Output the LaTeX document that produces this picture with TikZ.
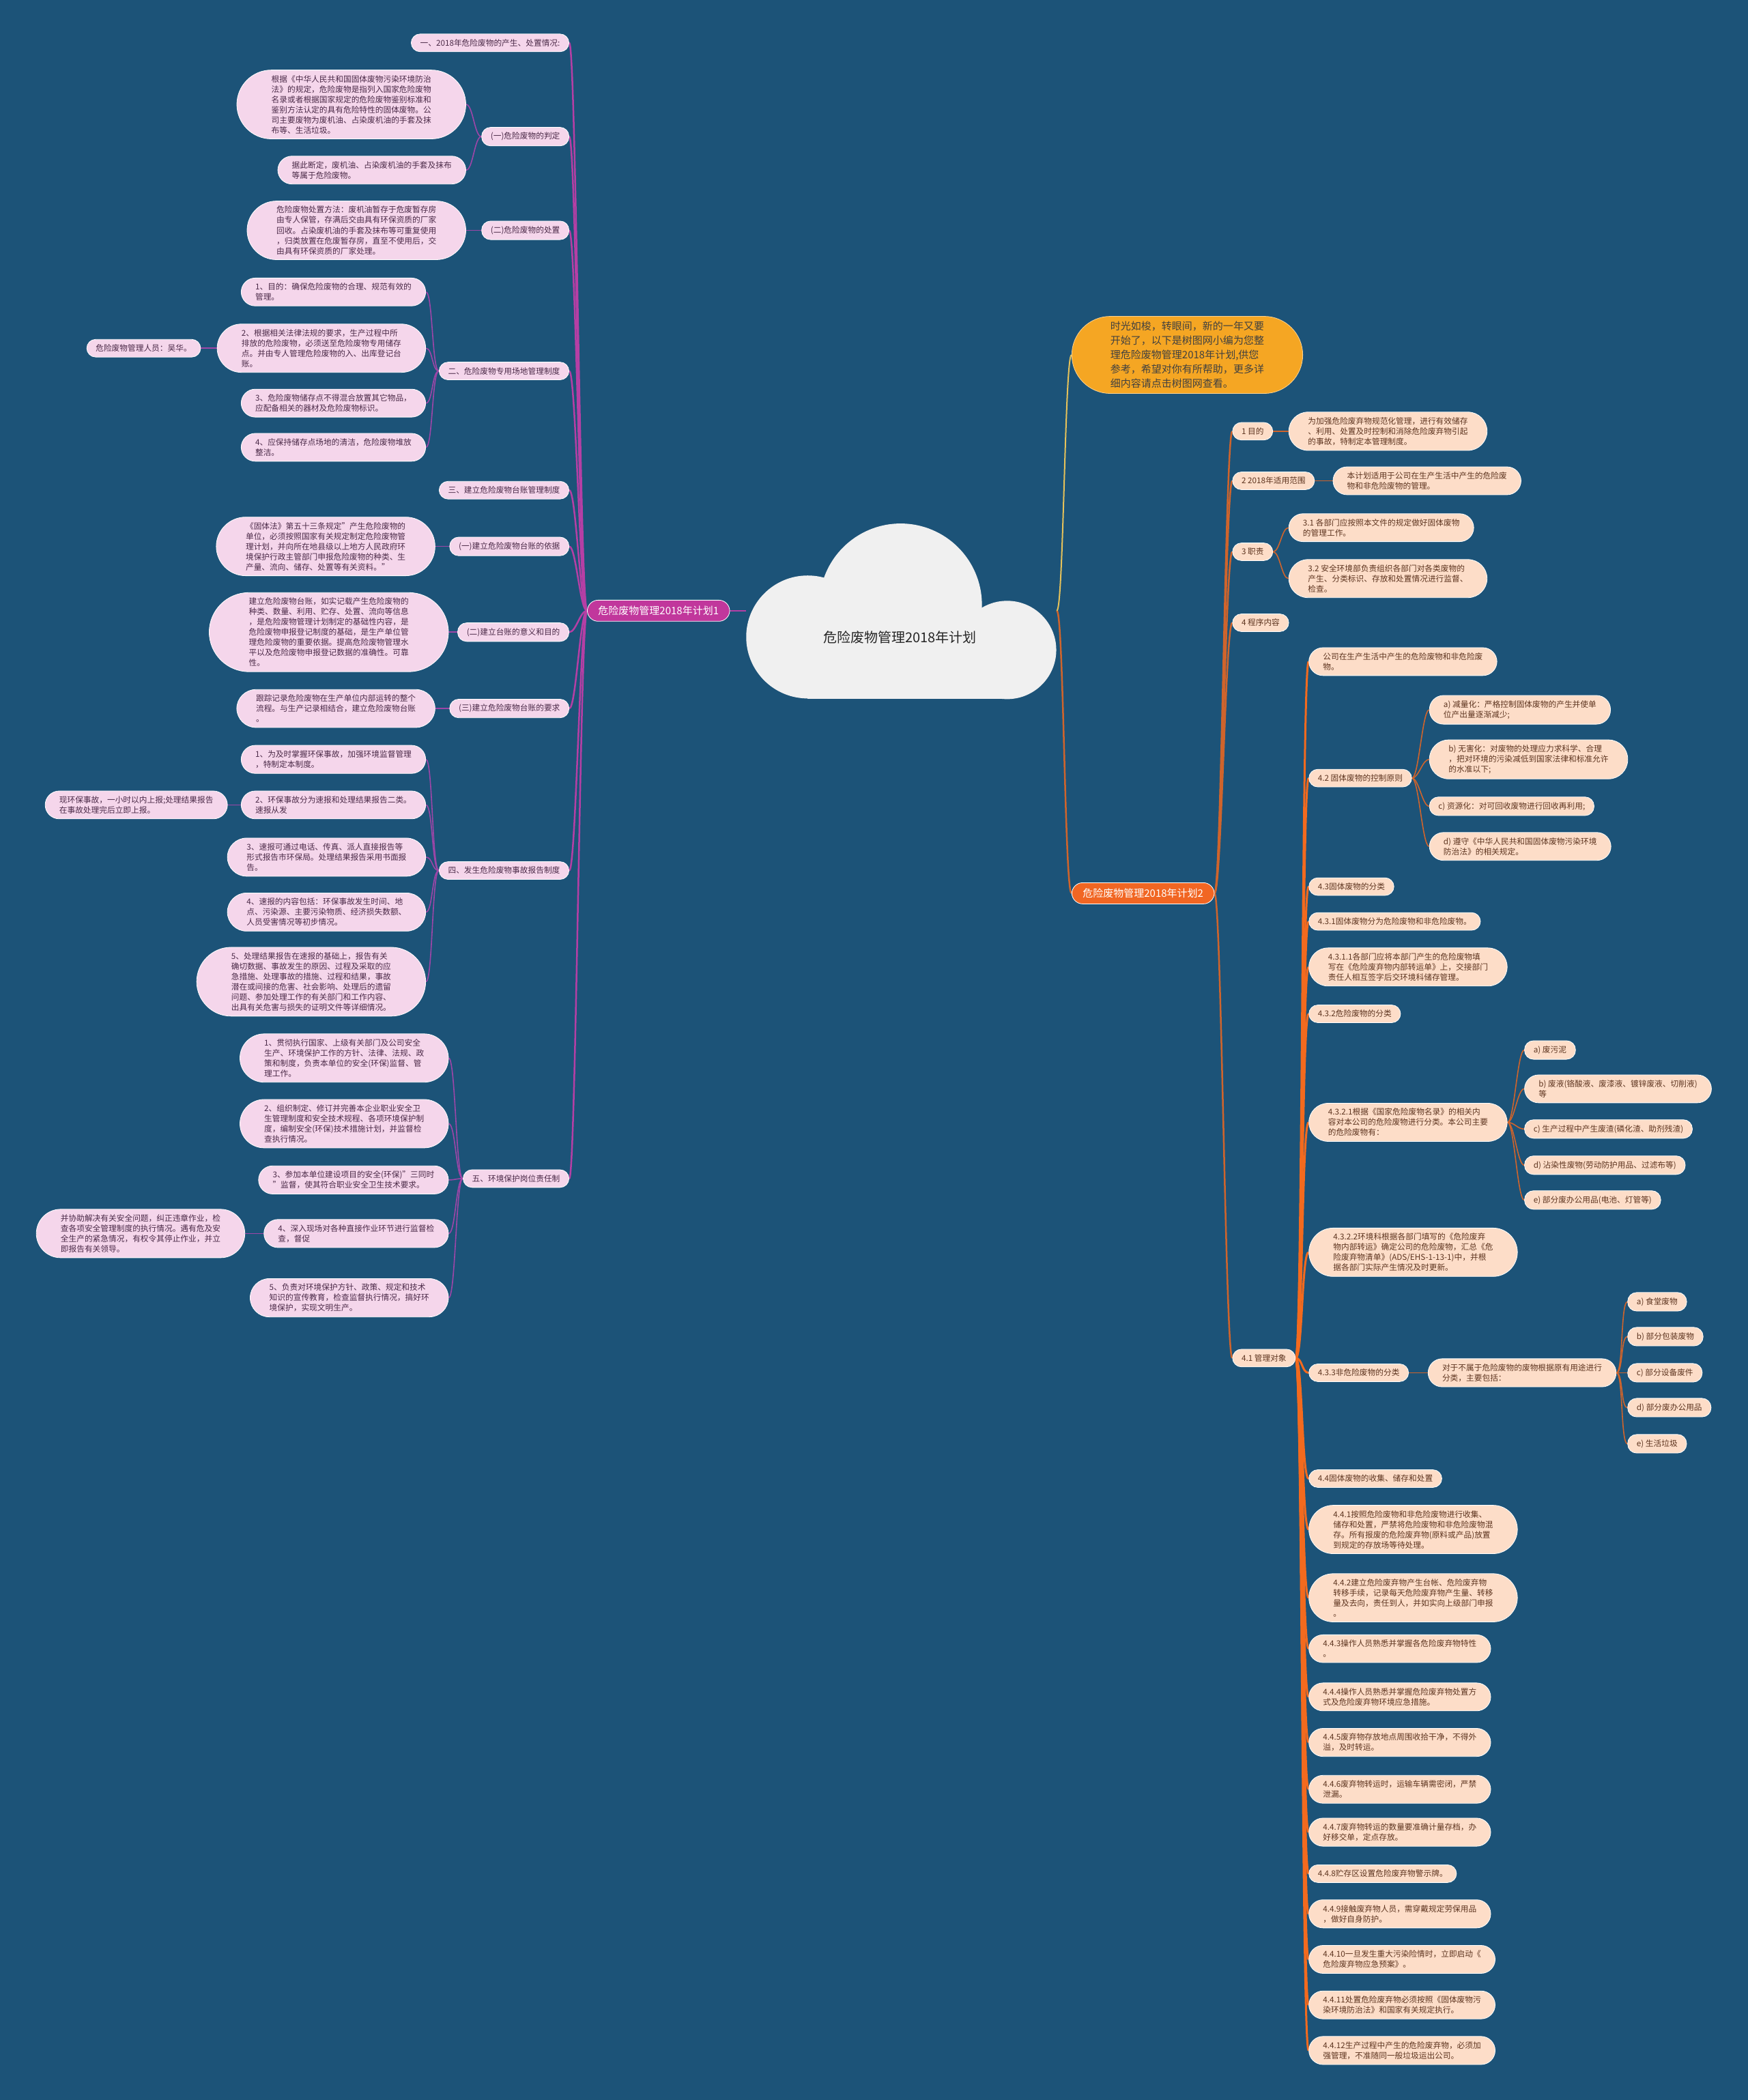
\documentclass[tikz,border=0pt]{standalone}
\usepackage{fontspec}
\setmainfont{Noto Sans CJK SC}
\usepackage{tikz}
\usetikzlibrary{shapes, backgrounds}

\definecolor{bgblue}{HTML}{1C5378}
\definecolor{cloudgray}{HTML}{F0F0F0}
\definecolor{pinkfill}{HTML}{F5D6EB}
\definecolor{pinktext}{HTML}{4B2A48}
\definecolor{magmain}{HTML}{C1379C}
\definecolor{magline}{HTML}{B53FA5}
\definecolor{purpline}{HTML}{9E46A8}
\definecolor{peachfill}{HTML}{FDDDC8}
\definecolor{browntext}{HTML}{5E3520}
\definecolor{orgmain}{HTML}{F16623}
\definecolor{orgline}{HTML}{F36A1E}
\definecolor{rustline}{HTML}{CF642C}
\definecolor{introfill}{HTML}{F5A623}
\definecolor{yelline}{HTML}{E6C25A}

\begin{document}
\begin{tikzpicture}[
    x=1.9617pt, y=-1.9617pt,
    every node/.style={inner xsep=0pt, inner ysep=7.5pt, font=\fontsize{11.7}{15}\selectfont},
    n1/.style={rounded corners=13.1pt, inner xsep=13.2pt},
    n2/.style={rounded corners=20.6pt, inner xsep=20.7pt},
    n3/.style={rounded corners=28.1pt, inner xsep=28.2pt},
    n4/.style={rounded corners=35.6pt, inner xsep=35.7pt},
    n5/.style={rounded corners=43.1pt, inner xsep=43.2pt},
    n6/.style={rounded corners=50.6pt, inner xsep=50.7pt},
    n7/.style={rounded corners=58.1pt, inner xsep=58.2pt},
    root/.style={font=\fontsize{20}{24}\selectfont, text=black!85},
    pill/.style={rectangle, draw=white, line width=.8pt, align=left},
    lbox/.style={pill, n#1, fill=pinkfill, text=pinktext, anchor=east},
    lbox/.default=1,
    rbox/.style={pill, n#1, fill=peachfill, text=browntext, anchor=west},
    rbox/.default=1,
    mainbox/.style={pill, text=white, font=\fontsize{15}{18}\selectfont, inner ysep=8.5pt, rounded corners=16pt, inner xsep=16pt},
    introbox/.style={pill, fill=introfill, draw=introfill!50!white, text=black!75, font=\fontsize{15}{21}\selectfont, rounded corners=56.5pt, inner xsep=56.6pt, anchor=west},
    lmain/.style={draw=magline, line width=2.5pt},
    lsub/.style={draw=purpline, line width=1.6pt},
    rmain/.style={draw=rustline, line width=2.5pt},
    rthick/.style={draw=orgline, line width=3pt},
    rsub/.style={draw=rustline, line width=1.6pt},
    lto/.style={out=180, in=0, distance=10pt},
    rto/.style={out=0, in=180, distance=10pt}
    ]

    \begin{scope}[on background layer]
    \fill[bgblue] (0,0) rectangle (1305,1568);
    \fill[cloudgray] (603,475.6) circle[radius=45.9];
    \fill[cloudgray] (672.4,451.6) circle[radius=60.7];
    \fill[cloudgray] (751.9,485.3) circle[radius=36.7];
    \fill[cloudgray] (603,468) rectangle (752,521.8);
    \end{scope}
    \useasboundingbox (0,0) rectangle (1305,1568);

    \node[root] (root) at (672,476) {危险废物管理2018年计划};
    \coordinate (cl) at (557,456);
    \coordinate (cr) at (789,456);

    % left half
    \node[mainbox, fill=magmain, anchor=east] (m1) at (545,456) {危险废物管理2018年计划1};

    \node[lbox] (l0) at (425,32) {一、2018年危险废物的产生、处置情况:};
    \node[lbox] (l1) at (425,102) {(一)危险废物的判定};
    \node[lbox=6] (l1a) at (348,78) {根据《中华人民共和国固体废物污染环境防治\\法》的规定，危险废物是指列入国家危险废物\\名录或者根据国家规定的危险废物鉴别标准和\\鉴别方法认定的具有危险特性的固体废物。公\\司主要废物为废机油、占染废机油的手套及抹\\布等、生活垃圾。};
    \node[lbox=2] (l1b) at (348,127) {据此断定，废机油、占染废机油的手套及抹布\\等属于危险废物。};
    \node[lbox] (l2) at (425,172) {(二)危险废物的处置};
    \node[lbox=5] (l2a) at (348,172) {危险废物处置方法：废机油暂存于危废暂存房\\由专人保管，存满后交由具有环保资质的厂家\\回收。占染废机油的手套及抹布等可重复使用\\，归类放置在危废暂存房，直至不使用后，交\\由具有环保资质的厂家处理。};
    \node[lbox] (l3) at (425,277) {二、危险废物专用场地管理制度};
    \node[lbox=2] (l3a) at (318,218) {1、目的：确保危险废物的合理、规范有效的\\管理。};
    \node[lbox=4] (l3b) at (318,260) {2、根据相关法律法规的要求，生产过程中所\\排放的危险废物，必须送至危险废物专用储存\\点。并由专人管理危险废物的入、出库登记台\\账。};
    \node[lbox] (l3b1) at (150,260) {危险废物管理人员：吴华。};
    \node[lbox=2] (l3c) at (318,301) {3、危险废物储存点不得混合放置其它物品，\\应配备相关的器材及危险废物标识。};
    \node[lbox=2] (l3d) at (318,334) {4、应保持储存点场地的清洁，危险废物堆放\\整洁。};
    \node[lbox] (l4) at (425,366) {三、建立危险废物台账管理制度};
    \node[lbox] (l5) at (425,408) {(一)建立危险废物台账的依据};
    \node[lbox=5] (l5a) at (325,408) {《固体法》第五十三条规定"产生危险废物的\\单位，必须按照国家有关规定制定危险废物管\\理计划，并向所在地县级以上地方人民政府环\\境保护行政主管部门申报危险废物的种类、生\\产量、流向、储存、处置等有关资料。"};
    \node[lbox] (l6) at (425,472) {(二)建立台账的意义和目的};
    \node[lbox=7] (l6a) at (335,472) {建立危险废物台账，如实记载产生危险废物的\\种类、数量、利用、贮存、处置、流向等信息\\，是危险废物管理计划制定的基础性内容，是\\危险废物申报登记制度的基础，是生产单位管\\理危险废物的重要依据。提高危险废物管理水\\平以及危险废物申报登记数据的准确性。可靠\\性。};
    \node[lbox] (l7) at (425,529) {(三)建立危险废物台账的要求};
    \node[lbox=3] (l7a) at (325,529) {跟踪记录危险废物在生产单位内部运转的整个\\流程。与生产记录相结合，建立危险废物台账\\。};
    \node[lbox] (l8) at (425,650) {四、发生危险废物事故报告制度};
    \node[lbox=2] (l8a) at (318,567) {1、为及时掌握环保事故，加强环境监督管理\\，特制定本制度。};
    \node[lbox=2] (l8b) at (318,601) {2、环保事故分为速报和处理结果报告二类。\\速报从发};
    \node[lbox=2] (l8b1) at (170,601) {现环保事故，一小时以内上报;处理结果报告\\在事故处理完后立即上报。};
    \node[lbox=3] (l8c) at (318,640) {3、速报可通过电话、传真、派人直接报告等\\形式报告市环保局。处理结果报告采用书面报\\告。};
    \node[lbox=3] (l8d) at (318,681) {4、速报的内容包括：环保事故发生时间、地\\点、污染源、主要污染物质、经济损失数额、\\人员受害情况等初步情况。};
    \node[lbox=6] (l8e) at (318,733) {5、处理结果报告在速报的基础上，报告有关\\确切数据、事故发生的原因、过程及采取的应\\急措施、处理事故的措施、过程和结果，事故\\潜在或间接的危害、社会影响、处理后的遗留\\问题、参加处理工作的有关部门和工作内容、\\出具有关危害与损失的证明文件等详细情况。};
    \node[lbox] (l9) at (425,880) {五、环境保护岗位责任制};
    \node[lbox=4] (l9a) at (335,790) {1、贯彻执行国家、上级有关部门及公司安全\\生产、环境保护工作的方针、法律、法规、政\\策和制度，负责本单位的安全(环保)监督、管\\理工作。};
    \node[lbox=4] (l9b) at (335,839) {2、组织制定、修订并完善本企业职业安全卫\\生管理制度和安全技术规程、各项环境保护制\\度，编制安全(环保)技术措施计划，并监督检\\查执行情况。};
    \node[lbox=2] (l9c) at (335,881) {3、参加本单位建设项目的安全(环保)"三同时\\"监督，使其符合职业安全卫生技术要求。};
    \node[lbox=2] (l9d) at (335,921) {4、深入现场对各种直接作业环节进行监督检\\查，督促};
    \node[lbox=4] (l9d1) at (183,921) {并协助解决有关安全问题，纠正违章作业，检\\查各项安全管理制度的执行情况。遇有危及安\\全生产的紧急情况，有权令其停止作业，并立\\即报告有关领导。};
    \node[lbox=3] (l9e) at (335,969) {5、负责对环境保护方针、政策、规定和技术\\知识的宣传教育，检查监督执行情况，搞好环\\境保护，实现文明生产。};

    % right half
    \node[introbox] (intro) at (800,265) {时光如梭，转眼间，新的一年又要\\开始了，以下是树图网小编为您整\\理危险废物管理2018年计划,供您\\参考，希望对你有所帮助，更多详\\细内容请点击树图网查看。};
    \node[mainbox, fill=orgmain, anchor=west] (m2) at (800,667) {危险废物管理2018年计划2};

    \node[rbox] (r1) at (920,322) {1 目的};
    \node[rbox=3] (r1a) at (962,322) {为加强危险废弃物规范化管理，进行有效储存\\、利用、处置及时控制和消除危险废弃物引起\\的事故，特制定本管理制度。};
    \node[rbox] (r2) at (920,359) {2 2018年适用范围};
    \node[rbox=2] (r2a) at (995,359) {本计划适用于公司在生产生活中产生的危险废\\物和非危险废物的管理。};
    \node[rbox] (r3) at (920,412) {3 职责};
    \node[rbox=2] (r3a) at (962,394) {3.1 各部门应按照本文件的规定做好固体废物\\的管理工作。};
    \node[rbox=3] (r3b) at (962,432) {3.2 安全环境部负责组织各部门对各类废物的\\产生、分类标识、存放和处置情况进行监督、\\检查。};
    \node[rbox] (r4) at (920,465) {4 程序内容};
    \node[rbox] (r5) at (920,1014) {4.1 管理对象};

    \node[rbox=2] (s1) at (977,494) {公司在生产生活中产生的危险废物和非危险废\\物。};
    \node[rbox] (s2) at (977,581) {4.2 固体废物的控制原则};
    \node[rbox=2] (s2a) at (1067,530) {a) 减量化：严格控制固体废物的产生并使单\\位产出量逐渐减少;};
    \node[rbox=3] (s2b) at (1067,567) {b) 无害化：对废物的处理应力求科学、合理\\，把对环境的污染减低到国家法律和标准允许\\的水准以下;};
    \node[rbox] (s2c) at (1067,602) {c) 资源化：对可回收废物进行回收再利用;};
    \node[rbox=2] (s2d) at (1067,632) {d) 遵守《中华人民共和国固体废物污染环境\\防治法》的相关规定。};
    \node[rbox] (s3) at (977,662) {4.3固体废物的分类};
    \node[rbox] (s4) at (977,688) {4.3.1固体废物分为危险废物和非危险废物。};
    \node[rbox=3] (s5) at (977,722) {4.3.1.1各部门应将本部门产生的危险废物填\\写在《危险废弃物内部转运单》上，交接部门\\责任人相互签字后交环境科储存管理。};
    \node[rbox] (s6) at (977,757) {4.3.2危险废物的分类};
    \node[rbox=3] (s7) at (977,838) {4.3.2.1根据《国家危险废物名录》的相关内\\容对本公司的危险废物进行分类。本公司主要\\的危险废物有：};
    \node[rbox] (s7a) at (1138,784) {a) 废污泥};
    \node[rbox=2] (s7b) at (1138,813) {b) 废液(铬酸液、废漆液、镀锌废液、切削液)\\等};
    \node[rbox] (s7c) at (1138,843) {c) 生产过程中产生废渣(磷化渣、助剂残渣)};
    \node[rbox] (s7d) at (1138,870) {d) 沾染性废物(劳动防护用品、过滤布等)};
    \node[rbox] (s7e) at (1138,896) {e) 部分废办公用品(电池、灯管等)};
    \node[rbox=4] (s8) at (977,935) {4.3.2.2环境科根据各部门填写的《危险废弃\\物内部转运》确定公司的危险废物，汇总《危\\险废弃物清单》(ADS/EHS-1-13-1)中，并根\\据各部门实际产生情况及时更新。};
    \node[rbox] (s9) at (977,1025) {4.3.3非危险废物的分类};
    \node[rbox=2] (s9x) at (1066,1025) {对于不属于危险废物的废物根据原有用途进行\\分类，主要包括：};
    \node[rbox] (s9a) at (1215,972) {a) 食堂废物};
    \node[rbox] (s9b) at (1215,998) {b) 部分包装废物};
    \node[rbox] (s9c) at (1215,1025) {c) 部分设备废件};
    \node[rbox] (s9d) at (1215,1051) {d) 部分废办公用品};
    \node[rbox] (s9e) at (1215,1078) {e) 生活垃圾};
    \node[rbox] (t0) at (977,1104) {4.4固体废物的收集、储存和处置};
    \node[rbox=4] (t1) at (977,1142) {4.4.1按照危险废物和非危险废物进行收集、\\储存和处置，严禁将危险废物和非危险废物混\\存。所有报废的危险废弃物(原料或产品)放置\\到规定的存放场等待处理。};
    \node[rbox=4] (t2) at (977,1193) {4.4.2建立危险废弃物产生台帐、危险废弃物\\转移手续，记录每天危险废弃物产生量、转移\\量及去向，责任到人，并如实向上级部门申报\\。};
    \node[rbox=2] (t3) at (977,1231) {4.4.3操作人员熟悉并掌握各危险废弃物特性\\。};
    \node[rbox=2] (t4) at (977,1267) {4.4.4操作人员熟悉并掌握危险废弃物处置方\\式及危险废弃物环境应急措施。};
    \node[rbox=2] (t5) at (977,1301) {4.4.5废弃物存放地点周围收拾干净，不得外\\溢，及时转运。};
    \node[rbox=2] (t6) at (977,1336) {4.4.6废弃物转运时，运输车辆需密闭，严禁\\泄漏。};
    \node[rbox=2] (t7) at (977,1368) {4.4.7废弃物转运的数量要准确计量存档，办\\好移交单，定点存放。};
    \node[rbox] (t8) at (977,1399) {4.4.8贮存区设置危险废弃物警示牌。};
    \node[rbox=2] (t9) at (977,1429) {4.4.9接触废弃物人员，需穿戴规定劳保用品\\，做好自身防护。};
    \node[rbox=2] (t10) at (977,1463) {4.4.10一旦发生重大污染险情时，立即启动《\\危险废弃物应急预案》。};
    \node[rbox=2] (t11) at (977,1497) {4.4.11处置危险废弃物必须按照《固体废物污\\染环境防治法》和国家有关规定执行。};
    \node[rbox=2] (t12) at (977,1531) {4.4.12生产过程中产生的危险废弃物，必须加\\强管理，不准随同一般垃圾运出公司。};

    \begin{scope}[on background layer]
    \draw[lmain] (m1.east) -- (cl);
    \draw[rmain] (cr) to[rto] (m2.west);
    \draw[draw=yelline, line width=2pt] (cr) to[rto] (intro.west);

    \draw[lmain] (m1.west) to[lto] (l0.east);
    \draw[lmain] (m1.west) to[lto] (l1.east);
    \draw[lmain] (m1.west) to[lto] (l2.east);
    \draw[lmain] (m1.west) to[lto] (l3.east);
    \draw[lmain] (m1.west) to[lto] (l4.east);
    \draw[lmain] (m1.west) to[lto] (l5.east);
    \draw[lmain] (m1.west) to[lto] (l6.east);
    \draw[lmain] (m1.west) to[lto] (l7.east);
    \draw[lmain] (m1.west) to[lto] (l8.east);
    \draw[lmain] (m1.west) to[lto] (l9.east);

    \draw[lsub] (l1.west) to[lto] (l1a.east);
    \draw[lsub] (l1.west) to[lto] (l1b.east);
    \draw[lsub] (l2.west) to[lto] (l2a.east);
    \draw[lsub] (l3.west) to[lto] (l3a.east);
    \draw[lsub] (l3.west) to[lto] (l3b.east);
    \draw[lsub] (l3.west) to[lto] (l3c.east);
    \draw[lsub] (l3.west) to[lto] (l3d.east);
    \draw[lsub] (l3b.west) to[lto] (l3b1.east);
    \draw[lsub] (l5.west) to[lto] (l5a.east);
    \draw[lsub] (l6.west) to[lto] (l6a.east);
    \draw[lsub] (l7.west) to[lto] (l7a.east);
    \draw[lsub] (l8.west) to[lto] (l8a.east);
    \draw[lsub] (l8.west) to[lto] (l8b.east);
    \draw[lsub] (l8.west) to[lto] (l8c.east);
    \draw[lsub] (l8.west) to[lto] (l8d.east);
    \draw[lsub] (l8.west) to[lto] (l8e.east);
    \draw[lsub] (l8b.west) to[lto] (l8b1.east);
    \draw[lsub] (l9.west) to[lto] (l9a.east);
    \draw[lsub] (l9.west) to[lto] (l9b.east);
    \draw[lsub] (l9.west) to[lto] (l9c.east);
    \draw[lsub] (l9.west) to[lto] (l9d.east);
    \draw[lsub] (l9.west) to[lto] (l9e.east);
    \draw[lsub] (l9d.west) to[lto] (l9d1.east);

    \draw[rmain] (m2.east) to[rto] (r1.west);
    \draw[rmain] (m2.east) to[rto] (r2.west);
    \draw[rmain] (m2.east) to[rto] (r3.west);
    \draw[rmain] (m2.east) to[rto] (r4.west);
    \draw[rmain] (m2.east) to[rto] (r5.west);
    \draw[rsub] (r1.east) to[rto] (r1a.west);
    \draw[rsub] (r2.east) to[rto] (r2a.west);
    \draw[rsub] (r3.east) to[rto] (r3a.west);
    \draw[rsub] (r3.east) to[rto] (r3b.west);

    \draw[rthick] (r5.east) to[rto] (s1.west);
    \draw[rthick] (r5.east) to[rto] (s2.west);
    \draw[rthick] (r5.east) to[rto] (s3.west);
    \draw[rthick] (r5.east) to[rto] (s4.west);
    \draw[rthick] (r5.east) to[rto] (s5.west);
    \draw[rthick] (r5.east) to[rto] (s6.west);
    \draw[rthick] (r5.east) to[rto] (s7.west);
    \draw[rthick] (r5.east) to[rto] (s8.west);
    \draw[rthick] (r5.east) to[rto] (s9.west);
    \draw[rthick] (r5.east) to[rto] (t0.west);
    \draw[rthick] (r5.east) to[rto] (t1.west);
    \draw[rthick] (r5.east) to[rto] (t2.west);
    \draw[rthick] (r5.east) to[rto] (t3.west);
    \draw[rthick] (r5.east) to[rto] (t4.west);
    \draw[rthick] (r5.east) to[rto] (t5.west);
    \draw[rthick] (r5.east) to[rto] (t6.west);
    \draw[rthick] (r5.east) to[rto] (t7.west);
    \draw[rthick] (r5.east) to[rto] (t8.west);
    \draw[rthick] (r5.east) to[rto] (t9.west);
    \draw[rthick] (r5.east) to[rto] (t10.west);
    \draw[rthick] (r5.east) to[rto] (t11.west);
    \draw[rthick] (r5.east) to[rto] (t12.west);

    \draw[rsub] (s2.east) to[rto] (s2a.west);
    \draw[rsub] (s2.east) to[rto] (s2b.west);
    \draw[rsub] (s2.east) to[rto] (s2c.west);
    \draw[rsub] (s2.east) to[rto] (s2d.west);
    \draw[rsub] (s7.east) to[rto] (s7a.west);
    \draw[rsub] (s7.east) to[rto] (s7b.west);
    \draw[rsub] (s7.east) to[rto] (s7c.west);
    \draw[rsub] (s7.east) to[rto] (s7d.west);
    \draw[rsub] (s7.east) to[rto] (s7e.west);
    \draw[rsub] (s9.east) to[rto] (s9x.west);
    \draw[rsub] (s9x.east) to[rto] (s9a.west);
    \draw[rsub] (s9x.east) to[rto] (s9b.west);
    \draw[rsub] (s9x.east) to[rto] (s9c.west);
    \draw[rsub] (s9x.east) to[rto] (s9d.west);
    \draw[rsub] (s9x.east) to[rto] (s9e.west);
    \end{scope}

\end{tikzpicture}
\end{document}
